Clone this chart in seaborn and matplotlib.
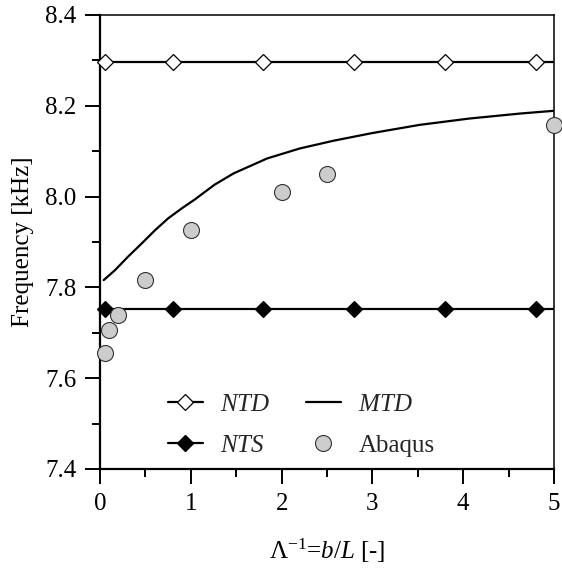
import numpy as np
import pandas as pd
import matplotlib
matplotlib.use("Agg")
import matplotlib.pyplot as plt
from matplotlib import font_manager
from matplotlib.lines import Line2D
from matplotlib.ticker import MultipleLocator, FormatStrFormatter
import seaborn as sns

# analytical solutions (constant in b/L)
ntd_freq = 8.297
nts_freq = 7.752
marker_x = [0.05, 0.8, 1.8, 2.8, 3.8, 4.8]
line_x = [0.0, 5.0]

# MTD curve
mtd_x = [0.04, 0.165, 0.31, 0.46, 0.606, 0.75, 0.90, 1.046, 1.26, 1.47,
         1.84, 2.20, 2.57, 3.0, 3.52, 4.07, 4.63, 5.0]
mtd_y = [7.816, 7.838, 7.868, 7.897, 7.926, 7.952, 7.974, 7.994, 8.026, 8.051,
         8.084, 8.106, 8.123, 8.140, 8.158, 8.172, 8.183, 8.189]

# Abaqus results
abaqus_x = [0.05, 0.1, 0.2, 0.5, 1.0, 2.0, 2.5, 5.0]
abaqus_y = [7.655, 7.706, 7.739, 7.816, 7.926, 8.010, 8.050, 8.158]

sns.set_style("ticks")
installed = {f.name for f in font_manager.fontManager.ttflist}
serif = "Liberation Serif" if "Liberation Serif" in installed else "STIXGeneral"
plt.rcParams["font.family"] = [serif, "DejaVu Serif"]
plt.rcParams["mathtext.fontset"] = "custom"
plt.rcParams["mathtext.rm"] = serif
plt.rcParams["mathtext.it"] = serif + ":italic"

fig = plt.figure(figsize=(5.62, 5.68), dpi=100)
ax = fig.add_axes([0.178, 0.1743, 0.8078, 0.7993])

fs = 18
lw = 1.6
dms = 8.5

# NTD / NTS lines + markers
sns.lineplot(x=line_x, y=[ntd_freq] * 2, color="black", lw=lw, ax=ax)
sns.lineplot(x=line_x, y=[nts_freq] * 2, color="black", lw=lw, ax=ax)
ax.plot(marker_x, [ntd_freq] * len(marker_x), ls="none", marker="D", ms=dms,
        mfc="white", mec="black", mew=0.9, clip_on=False, zorder=4)
ax.plot(marker_x, [nts_freq] * len(marker_x), ls="none", marker="D", ms=dms,
        mfc="black", mec="black", mew=0.9, clip_on=False, zorder=4)

# MTD
sns.lineplot(x=mtd_x, y=mtd_y, color="black", lw=lw, ax=ax)

# Abaqus
ax.plot(abaqus_x, abaqus_y, ls="none", marker="o", ms=11.5, mfc="#cccccc",
        mec="#333333", mew=0.8, clip_on=False, zorder=5)

ax.set_xlim(0, 5)
ax.set_ylim(7.4, 8.4)
ax.xaxis.set_major_locator(MultipleLocator(1))
ax.xaxis.set_minor_locator(MultipleLocator(0.5))
ax.yaxis.set_major_locator(MultipleLocator(0.2))
ax.yaxis.set_minor_locator(MultipleLocator(0.1))
ax.yaxis.set_major_formatter(FormatStrFormatter("%.1f"))
ax.tick_params(which="major", direction="out", length=11, width=1.4,
               labelsize=fs, color="black", labelcolor="black", pad=6)
ax.tick_params(which="minor", direction="out", length=5.5, width=1.4, color="black")

for side in ["left", "bottom"]:
    ax.spines[side].set_linewidth(1.6)
for side in ["top", "right"]:
    ax.spines[side].set_linewidth(1.1)
for sp in ax.spines.values():
    sp.set_color("black")

ax.set_ylabel("Frequency [kHz]", fontsize=fs, color="black", labelpad=8)
ax.set_xlabel(r"$\Lambda^{-1}$=$\it{b}$/$\it{L}$ [-]", fontsize=fs, color="black", labelpad=16)

handles = [
    Line2D([], [], color="black", lw=lw, marker="D", ms=dms, mfc="white", mec="black", mew=0.9),
    Line2D([], [], color="black", lw=lw, marker="D", ms=dms, mfc="black", mec="black"),
    Line2D([], [], color="black", lw=lw),
    Line2D([], [], ls="none", marker="o", ms=11.5, mfc="#cccccc", mec="#333333", mew=0.8),
]
labels = ["$\\it{NTD}$", "$\\it{NTS}$", "$\\it{MTD}$", "Abaqus"]
leg = ax.legend(handles, labels, ncol=2, frameon=False, fontsize=fs,
                loc="lower left", bbox_to_anchor=(0.1, -0.023),
                handlelength=1.4, columnspacing=1.4, labelspacing=0.75, handletextpad=0.7)

fig.savefig("out.png", dpi=100)
